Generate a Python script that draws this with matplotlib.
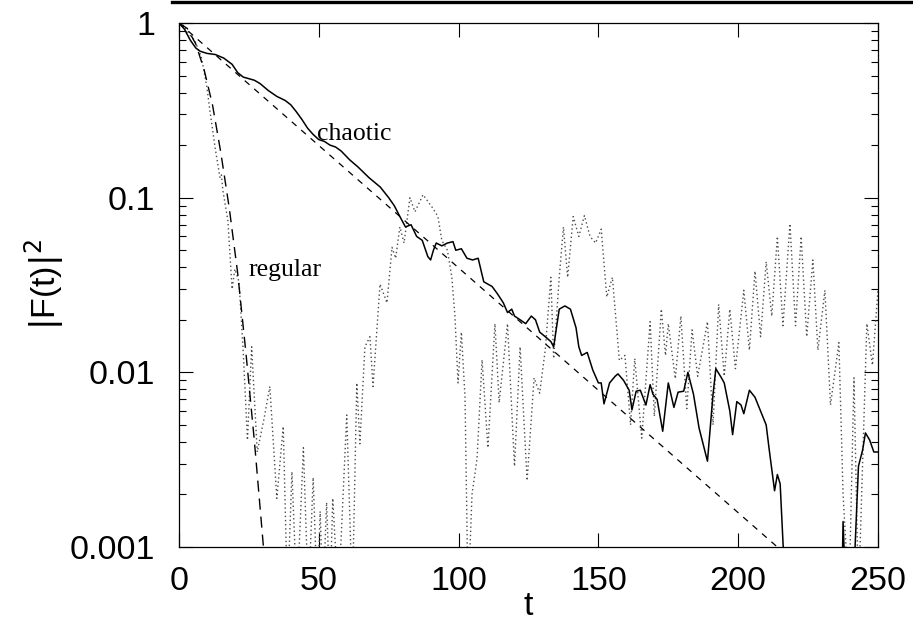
import matplotlib
matplotlib.use('Agg')
import matplotlib.pyplot as plt
from matplotlib.lines import Line2D
from matplotlib.ticker import LogLocator, FixedLocator, NullFormatter

# chaotic system, |F(t)|^2 (solid)
chaotic_t = [0, 2, 4, 6, 7.5, 10, 13, 16, 19, 21, 23, 25, 27, 29, 32, 35, 38, 40,
             42, 44, 46, 48, 50, 52, 54, 56, 58, 61, 64, 68, 72, 75, 77, 79, 81,
             83, 85, 87, 89, 90, 91, 92, 94, 96, 98, 99, 101, 103, 105, 107, 109,
             112, 114, 116, 117.5, 119, 120, 122, 124, 126, 127.5, 129, 131, 133,
             134, 135, 136, 138, 140, 142, 143, 144, 146, 148, 150, 151, 152, 154,
             156, 157, 159, 161, 162, 163.5, 165, 167, 168.5, 169.5, 171, 173,
             175, 177, 178.5, 180.5, 182, 184, 186, 189, 191, 192, 194, 195, 197,
             198, 199.5, 201, 202, 204, 206, 208, 210, 211, 213, 214, 215, 217,
             237, 237.5, 238.5, 241, 243, 244.5, 245.5, 247, 248.5, 250]
chaotic_val = [1.0, 0.92, 0.8, 0.72, 0.69, 0.67, 0.66, 0.63, 0.58, 0.52, 0.49,
               0.48, 0.47, 0.45, 0.41, 0.38, 0.36, 0.34, 0.31, 0.28, 0.25, 0.23,
               0.215, 0.21, 0.2, 0.195, 0.185, 0.165, 0.15, 0.13, 0.115, 0.10,
               0.09, 0.078, 0.068, 0.07, 0.06, 0.057, 0.046, 0.044, 0.05, 0.055,
               0.053, 0.055, 0.056, 0.05, 0.051, 0.045, 0.044, 0.045, 0.033,
               0.031, 0.028, 0.025, 0.022, 0.023, 0.021, 0.02, 0.019, 0.021, 0.02,
               0.017, 0.016, 0.015, 0.014, 0.018, 0.023, 0.024, 0.023, 0.018,
               0.014, 0.0125, 0.013, 0.0103, 0.0087, 0.0087, 0.0066, 0.0087,
               0.0095, 0.0098, 0.009, 0.0079, 0.0061, 0.0078, 0.0079, 0.0065,
               0.0085, 0.0075, 0.007, 0.0046, 0.0087, 0.0063, 0.0077, 0.0078,
               0.0100, 0.0075, 0.0048, 0.0031, 0.0075, 0.0105, 0.0093, 0.0087,
               0.006, 0.0044, 0.0068, 0.0065, 0.0058, 0.0079, 0.0072, 0.006,
               0.005, 0.0037, 0.0021, 0.0026, 0.0023, 0.0005, 0.0005, 0.0014,
               0.0005, 0.0005, 0.0029, 0.0036, 0.0045, 0.0041, 0.0035, 0.0035]

# exponential fit for the chaotic case (dashed)
chaotic_fit_t = [0, 214]
chaotic_fit_val = [1.0, 0.001]

# regular system, |F(t)|^2 (dotted)
regular_t = [0, 1.5, 4, 5.7, 8, 10, 11, 13, 14.7, 15.2, 15.7, 17.5, 19, 20, 21.5,
             23, 24.5, 26, 28, 30.5, 32.5, 35, 37.3, 38.8, 40.4, 42.2, 44.5, 46.3,
             48, 49.5, 50.5, 51.5, 52.8, 54, 55, 57, 60, 62, 63.6, 64.7, 66.5,
             68.3, 69.4, 71.9, 74.4, 76.2, 77.5, 79, 80.5, 82.6, 84.4, 87.3, 90.8,
             92.6, 94, 96, 97.6, 98.7, 99.8, 101, 102.3, 103.4, 104.8, 106.6,
             108.4, 110.5, 113, 114.5, 117.5, 120, 122, 124.5, 127, 129, 131, 133,
             134, 136, 137.5, 139, 141, 143, 145, 147, 149, 151, 153, 155, 157.5,
             159.5, 161.5, 163, 165.5, 168.5, 170, 172.5, 174, 175, 177.5, 179.5,
             181.6, 183.5, 185.5, 189, 191, 193, 195, 197, 199, 202, 204, 206,
             208, 210, 212, 214, 216, 218.5, 220.5, 222.5, 224.5, 226.7, 228.5,
             231, 233, 236, 237.5, 239.6, 241.4, 243, 246, 248, 250]
regular_val = [1.0, 0.97, 0.85, 0.79, 0.64, 0.43, 0.32, 0.19, 0.13, 0.135, 0.11,
               0.074, 0.03, 0.039, 0.033, 0.013, 0.0041, 0.014, 0.0035, 0.0055,
               0.0083, 0.0019, 0.0049, 0.0005, 0.0027, 0.0005, 0.0037, 0.0005,
               0.0025, 0.0005, 0.0016, 0.0005, 0.0018, 0.0005, 0.0019, 0.0005,
               0.0057, 0.0005, 0.0087, 0.0039, 0.014, 0.016, 0.0083, 0.032, 0.025,
               0.052, 0.045, 0.068, 0.055, 0.1, 0.083, 0.104, 0.087, 0.078, 0.057,
               0.05, 0.035, 0.021, 0.0087, 0.017, 0.0072, 0.0005, 0.002, 0.0032,
               0.0118, 0.0037, 0.019, 0.0067, 0.019, 0.0029, 0.014, 0.0024, 0.0093,
               0.0076, 0.0135, 0.035, 0.012, 0.035, 0.068, 0.035, 0.078, 0.06,
               0.079, 0.06, 0.055, 0.066, 0.027, 0.035, 0.0117, 0.0125, 0.005,
               0.012, 0.0042, 0.0195, 0.0056, 0.023, 0.0125, 0.019, 0.0092, 0.021,
               0.0062, 0.0175, 0.0095, 0.0195, 0.005, 0.0245, 0.0095, 0.023,
               0.0105, 0.0295, 0.0134, 0.038, 0.016, 0.043, 0.021, 0.06, 0.0185,
               0.071, 0.0185, 0.06, 0.016, 0.044, 0.0134, 0.0295, 0.0065, 0.0148,
               0.002, 0.0005, 0.0093, 0.0005, 0.019, 0.011, 0.03]

# gaussian fit for the regular case (long dashes)
regular_fit_t = [0, 3, 6, 9, 12, 15, 18, 21, 24, 27, 30, 33]
regular_fit_val = [1.0, 0.93, 0.76, 0.54, 0.34, 0.18, 0.087, 0.037, 0.0127,
                   0.0040, 0.0011, 0.00028]

x_ticks = [0, 50, 100, 150, 200, 250]
y_ticks = [0.001, 0.01, 0.1, 1]
y_tick_labels = ['0.001', '0.01', '0.1', '1']

plt.rcParams['font.family'] = ['Liberation Sans', 'DejaVu Sans']

fig = plt.figure(figsize=(9.13, 6.30), dpi=100)
ax = fig.add_axes([0.196, 0.1317, 0.7657, 0.8318])

ax.plot(regular_t, regular_val, color='0.3', lw=1.0, linestyle=(0, (1, 2)))
ax.plot(regular_fit_t, regular_fit_val, color='black', lw=1.0, linestyle=(0, (8, 5)))
ax.plot(chaotic_fit_t, chaotic_fit_val, color='black', lw=0.9, linestyle=(0, (5, 5)))
ax.plot(chaotic_t, chaotic_val, color='black', lw=1.1)

ax.set_yscale('log')
ax.set_xlim(0, 250)
ax.set_ylim(0.001, 1)

ax.xaxis.set_major_locator(FixedLocator(x_ticks))
ax.yaxis.set_major_locator(FixedLocator(y_ticks))
ax.set_yticklabels(y_tick_labels)
ax.yaxis.set_minor_locator(LogLocator(base=10, subs=range(2, 10), numticks=20))
ax.yaxis.set_minor_formatter(NullFormatter())

ax.tick_params(which='both', direction='in', top=True, right=True,
               labelsize=24.5, width=0.8)
ax.tick_params(which='major', length=10)
ax.tick_params(which='minor', length=5)
ax.tick_params(axis='x', which='major', pad=14)
ax.tick_params(axis='y', which='major', pad=17)
for s in ax.spines.values():
    s.set_linewidth(0.9)

ax.set_xlabel('t', fontsize=24.5, labelpad=-5)
ax.set_ylabel('$|$F(t)$|^2$', fontsize=24.5, labelpad=3)

ax.text(49.4, 0.214, 'chaotic', family='Liberation Serif', fontsize=18.5,
        va='baseline', ha='left')
ax.text(24.7, 0.0356, 'regular', family='Liberation Serif', fontsize=18.5,
        va='baseline', ha='left')

# thick rule across the top of the page
fig.add_artist(Line2D([172 / 913, 1.0], [1 - 1.5 / 630, 1 - 1.5 / 630],
                      color='black', lw=2.4, transform=fig.transFigure))

fig.savefig('out.png', dpi=100)
